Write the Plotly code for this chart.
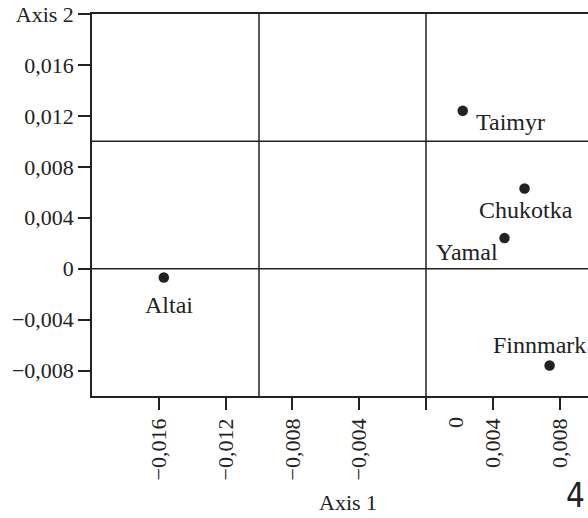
import plotly.graph_objects as go

# ---- data ----
regions = ["Taimyr", "Chukotka", "Yamal", "Finnmark", "Altai"]
axis1 = [0.0022, 0.0059, 0.0047, 0.0074, -0.0157]
axis2 = [0.0124, 0.0063, 0.0024, -0.0076, -0.0007]

x_tickvals = [-0.016, -0.012, -0.008, -0.004, 0.0, 0.004, 0.008]
x_ticktext = ["\u22120,016", "\u22120,012", "\u22120,008", "\u22120,004", "", "0,004", "0,008"]
y_tickvals = [-0.008, -0.004, 0.0, 0.004, 0.008, 0.012, 0.016, 0.020]
y_ticktext = ["\u22120,008", "\u22120,004", "0", "0,004", "0,008", "0,012", "0,016", "Axis 2"]
divider_x = [-0.010, 0.0]
divider_y = [0.0, 0.010]

# label offsets in pixels (style)
label_shift = {
    "Taimyr": (48, -11),
    "Chukotka": (1, -22),
    "Yamal": (-38, -14),
    "Finnmark": (-10, 20),
    "Altai": (5, -27),
}

SERIF = "Liberation Serif, Times New Roman, serif"
INK = "#222222"

fig = go.Figure()
fig.add_trace(go.Scatter(
    x=axis1, y=axis2, mode="markers",
    marker=dict(size=10.5, color=INK),
    hoverinfo="skip", showlegend=False,
))

shapes = []
for xv in divider_x:
    shapes.append(dict(type="line", xref="x", yref="paper", x0=xv, x1=xv, y0=0, y1=1,
                       line=dict(color=INK, width=1.5), layer="below"))
for yv in divider_y:
    shapes.append(dict(type="line", xref="paper", yref="y", x0=0, x1=1, y0=yv, y1=yv,
                       line=dict(color=INK, width=1.5), layer="below"))

annotations = []
for name, xv, yv in zip(regions, axis1, axis2):
    dx, dy = label_shift[name]
    annotations.append(dict(x=xv, y=yv, xref="x", yref="y", text=name, showarrow=False,
                            xshift=dx, yshift=dy, xanchor="center", yanchor="middle",
                            font=dict(family=SERIF, size=24, color=INK)))
# displaced zero label of axis 1
annotations.append(dict(x=0.0, y=0, xref="x", yref="paper", text="0", showarrow=False,
                        textangle=-90, xshift=29, yshift=-27, xanchor="center", yanchor="middle",
                        font=dict(family=SERIF, size=22, color=INK)))
annotations.append(dict(x=0.516, y=0, xref="paper", yref="paper", text="Axis 1", showarrow=False,
                        yshift=-120, xanchor="center", yanchor="bottom", borderpad=0,
                        font=dict(family=SERIF, size=22, color=INK)))
annotations.append(dict(x=1, y=0, xref="paper", yref="paper", text="4", showarrow=False,
                        xshift=-2, yshift=-120, xanchor="right", yanchor="bottom", borderpad=0,
                        font=dict(family="Liberation Sans Narrow, DejaVu Sans Condensed, sans-serif",
                                  size=33, color=INK)))

fig.update_layout(
    width=588, height=518,
    margin=dict(l=92, r=0, t=14, b=122, pad=0),
    paper_bgcolor="white", plot_bgcolor="white",
    shapes=shapes, annotations=annotations,
    xaxis=dict(range=[-0.020, 0.0097], tickvals=x_tickvals, ticktext=x_ticktext,
               tickangle=-90, ticks="outside", ticklen=12, tickwidth=1.5, tickcolor=INK,
               showline=True, linecolor=INK, linewidth=1.5, mirror=True,
               showgrid=False, zeroline=False,
               tickfont=dict(family=SERIF, size=22, color=INK)),
    yaxis=dict(range=[-0.010, 0.020], tickvals=y_tickvals, ticktext=y_ticktext,
               ticks="outside", ticklen=12, tickwidth=1.5, tickcolor=INK,
               showline=True, linecolor=INK, linewidth=1.5,
               showgrid=False, zeroline=False,
               tickfont=dict(family=SERIF, size=22, color=INK)),
)

fig.write_html(
    "out.html",
    config={"displayModeBar": False},
    post_script="document.body.style.margin='0';document.body.style.overflow='hidden';",
)
